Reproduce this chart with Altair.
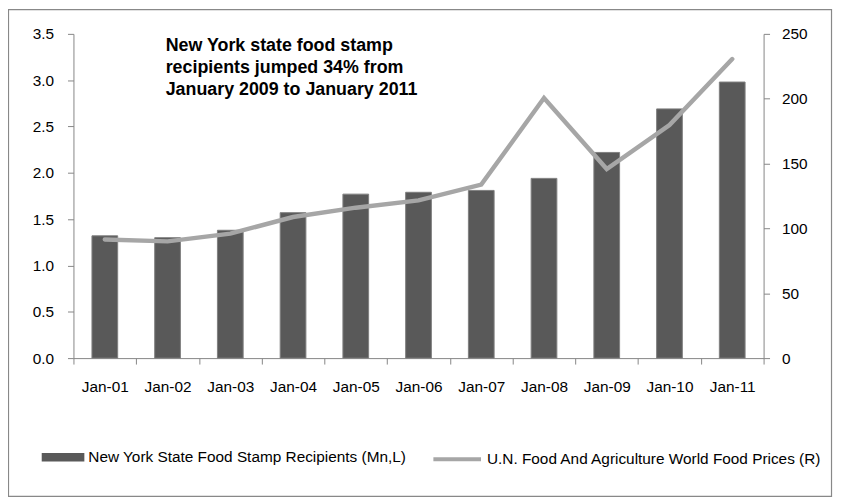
import altair as alt
import pandas as pd

months = ["Jan-01", "Jan-02", "Jan-03", "Jan-04", "Jan-05", "Jan-06",
          "Jan-07", "Jan-08", "Jan-09", "Jan-10", "Jan-11"]
recipients = [1.32, 1.30, 1.38, 1.57, 1.77, 1.79, 1.81, 1.94, 2.22, 2.69, 2.98]
food_prices = [91.5, 90.0, 96.0, 108.8, 116.0, 121.6, 133.8, 200.5, 145.8, 179.7, 230.6]
left_ticks = [0, 0.5, 1.0, 1.5, 2.0, 2.5, 3.0, 3.5]
right_ticks = [0, 50, 100, 150, 200, 250]
bar_label = "New York State Food Stamp Recipients (Mn,L)"
line_label = "U.N. Food And Agriculture World Food Prices (R)"
note_lines = ["New York state food stamp",
              "recipients jumped 34% from",
              "January 2009 to January 2011"]

df = pd.DataFrame({
    "month": months,
    "recipients": recipients,
    "prices": food_prices,
    "bar_series": bar_label,
    "line_series": line_label,
})

FONT = "Liberation Sans"
FS = 15.5
AXIS_GRAY = "#868686"

x_enc = alt.X(
    "month:N", sort=months, title=None,
    scale=alt.Scale(paddingInner=0, paddingOuter=0),
    axis=alt.Axis(labelAngle=0, tickBand="extent", domainColor=AXIS_GRAY,
                  tickColor=AXIS_GRAY, tickSize=6, labelPadding=16,
                  labelFontSize=FS, labelFont=FONT, labelColor="#000"),
)

base = alt.Chart(df)

bars = base.mark_bar(width=alt.RelativeBandSize(0.41), stroke="#7f7f7f",
                     strokeWidth=1).encode(
    x=x_enc,
    y=alt.Y("recipients:Q", title=None,
            scale=alt.Scale(domain=[0, 3.5], nice=False),
            axis=alt.Axis(values=left_ticks, format=".1f", grid=False,
                          domainColor=AXIS_GRAY, tickColor=AXIS_GRAY,
                          tickSize=6, labelPadding=14, labelFontSize=FS,
                          labelFont=FONT, labelColor="#000")),
    color=alt.Color("bar_series:N", scale=alt.Scale(range=["#595959"]),
                    legend=alt.Legend(title=None, orient="none", legendX=-32,
                                      legendY=405.5,
                                      symbolType="M-1,-0.2L1,-0.2L1,0.2L-1,0.2Z",
                                      symbolSize=1849, symbolStrokeWidth=0,
                                      labelFontSize=FS, labelFont=FONT,
                                      labelColor="#000", labelLimit=500,
                                      labelOffset=4)),
)

line = base.mark_line(strokeWidth=4.5, strokeCap="round",
                      strokeJoin="miter").encode(
    x=x_enc,
    y=alt.Y("prices:Q", title=None,
            scale=alt.Scale(domain=[0, 250], nice=False),
            axis=alt.Axis(orient="right", values=right_ticks, grid=False,
                          domainColor=AXIS_GRAY, tickColor=AXIS_GRAY,
                          tickSize=6, labelPadding=12, labelFontSize=FS,
                          labelFont=FONT, labelColor="#000")),
    stroke=alt.Stroke("line_series:N", scale=alt.Scale(range=["#a6a6a6"]),
                      legend=alt.Legend(title=None, orient="none", legendX=361,
                                        legendY=403, symbolType="stroke",
                                        symbolSize=2304, symbolStrokeWidth=4,
                                        labelFontSize=FS, labelFont=FONT,
                                        labelColor="#000", labelLimit=500,
                                        labelOffset=4)),
)

note = alt.Chart(pd.DataFrame({"note": [note_lines]})).mark_text(
    align="left", baseline="top", font=FONT, fontSize=18, fontWeight="bold",
    lineHeight=22.5, color="#000"
).encode(text="note", x=alt.value(93), y=alt.value(3))

border = alt.Chart(pd.DataFrame({"a": [0]})).mark_rect(
    fill="transparent", stroke="#888888", strokeWidth=1.2
).encode(x=alt.value(-65.5), x2=alt.value(764.5),
         y=alt.value(-24.5), y2=alt.value(466.5))

chart = alt.layer(border, bars, line, note).resolve_scale(
    y="independent", color="independent", stroke="independent"
).properties(
    width=696, height=327,
    padding={"left": 66, "top": 24, "right": 70, "bottom": 140},
    autosize=alt.AutoSizeParams(type="none"),
    background="white",
).configure_view(stroke=None)

chart.save("out.html", embed_options={"renderer": "svg", "actions": False})
